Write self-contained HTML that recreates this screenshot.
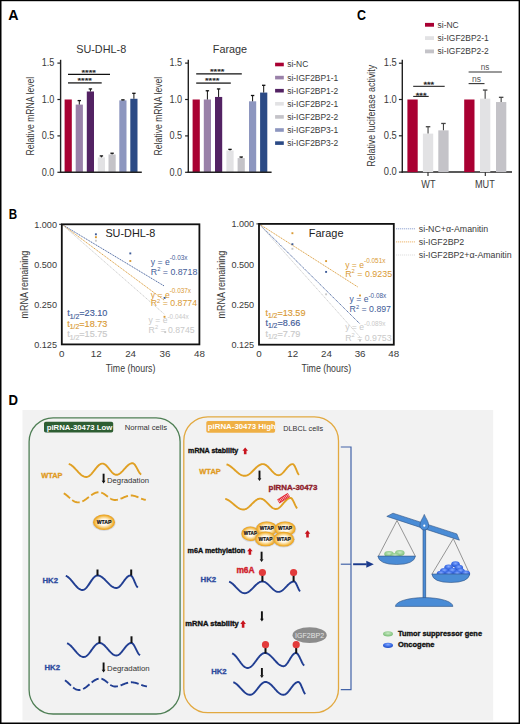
<!DOCTYPE html>
<html><head><meta charset="utf-8"><style>
html,body{margin:0;padding:0;background:#fff;}
svg{display:block;}
text{font-family:"Liberation Sans", sans-serif;}
</style></head><body>
<svg width="520" height="724" viewBox="0 0 520 724">
<defs>
<radialGradient id="gOr" cx="50%" cy="50%" r="50%"><stop offset="0" stop-color="#ffffff"/><stop offset="0.4" stop-color="#FFF8EA"/><stop offset="0.68" stop-color="#F8D282"/><stop offset="0.88" stop-color="#F0AE30"/><stop offset="1" stop-color="#E8A020"/></radialGradient>
<radialGradient id="gGr" cx="50%" cy="40%" r="55%"><stop offset="0" stop-color="#C8EAC4"/><stop offset="1" stop-color="#7EC07A"/></radialGradient>
<radialGradient id="gBl" cx="50%" cy="35%" r="60%"><stop offset="0" stop-color="#86AAFF"/><stop offset="0.6" stop-color="#3F6FE6"/><stop offset="1" stop-color="#2552C8"/></radialGradient>
</defs>
<rect x="0" y="0" width="520" height="724" fill="#fff"/>
<text x="8.20" y="19.70" font-size="14.5" fill="#000" font-weight="bold" textLength="10.30" lengthAdjust="spacingAndGlyphs">A</text>
<text x="8.80" y="219.00" font-size="14.5" fill="#000" font-weight="bold" textLength="8.40" lengthAdjust="spacingAndGlyphs">B</text>
<text x="357.10" y="20.10" font-size="14.5" fill="#000" font-weight="bold" textLength="9.00" lengthAdjust="spacingAndGlyphs">C</text>
<text x="8.60" y="404.70" font-size="14.5" fill="#000" font-weight="bold" textLength="9.50" lengthAdjust="spacingAndGlyphs">D</text>
<line x1="60.60" y1="59.80" x2="60.60" y2="173.00" stroke="#222" stroke-width="1.4"/>
<line x1="57.40" y1="63.10" x2="60.60" y2="63.10" stroke="#222" stroke-width="1.2"/>
<text x="54.40" y="66.30" font-size="10.2" fill="#3a3a3a" text-anchor="end" textLength="12.70" lengthAdjust="spacingAndGlyphs">1.5</text>
<line x1="57.40" y1="99.50" x2="60.60" y2="99.50" stroke="#222" stroke-width="1.2"/>
<text x="54.40" y="102.70" font-size="10.2" fill="#3a3a3a" text-anchor="end" textLength="12.70" lengthAdjust="spacingAndGlyphs">1.0</text>
<line x1="57.40" y1="135.90" x2="60.60" y2="135.90" stroke="#222" stroke-width="1.2"/>
<text x="54.40" y="139.10" font-size="10.2" fill="#3a3a3a" text-anchor="end" textLength="12.70" lengthAdjust="spacingAndGlyphs">0.5</text>
<line x1="57.40" y1="172.30" x2="60.60" y2="172.30" stroke="#222" stroke-width="1.2"/>
<text x="54.40" y="175.50" font-size="10.2" fill="#3a3a3a" text-anchor="end" textLength="12.70" lengthAdjust="spacingAndGlyphs">0.0</text>
<text transform="translate(33.90,116.10) rotate(-90)" x="0" y="0" font-size="10.2" fill="#3a3a3a" text-anchor="middle" textLength="78.70" lengthAdjust="spacingAndGlyphs">Relative mRNA level</text>
<rect x="64.60" y="99.50" width="7.20" height="72.80" fill="#A90032"/>
<rect x="75.70" y="104.60" width="7.20" height="67.70" fill="#9A81A9"/>
<line x1="79.30" y1="100.59" x2="79.30" y2="104.60" stroke="#111" stroke-width="1.0"/>
<line x1="77.60" y1="100.59" x2="81.00" y2="100.59" stroke="#111" stroke-width="1.3"/>
<rect x="86.80" y="91.49" width="7.20" height="80.81" fill="#532263"/>
<line x1="90.40" y1="88.94" x2="90.40" y2="91.49" stroke="#111" stroke-width="1.0"/>
<line x1="88.70" y1="88.94" x2="92.10" y2="88.94" stroke="#111" stroke-width="1.3"/>
<rect x="97.80" y="157.38" width="7.20" height="14.92" fill="#E2E2E4"/>
<line x1="101.40" y1="155.92" x2="101.40" y2="157.38" stroke="#111" stroke-width="1.0"/>
<line x1="99.70" y1="155.92" x2="103.10" y2="155.92" stroke="#111" stroke-width="1.3"/>
<rect x="108.50" y="154.46" width="7.20" height="17.84" fill="#C4C3C8"/>
<line x1="112.10" y1="153.23" x2="112.10" y2="154.46" stroke="#111" stroke-width="1.0"/>
<line x1="110.40" y1="153.23" x2="113.80" y2="153.23" stroke="#111" stroke-width="1.3"/>
<rect x="119.30" y="100.37" width="7.20" height="71.93" fill="#8D96BF"/>
<line x1="122.90" y1="99.86" x2="122.90" y2="100.37" stroke="#111" stroke-width="1.0"/>
<line x1="121.20" y1="99.86" x2="124.60" y2="99.86" stroke="#111" stroke-width="1.3"/>
<rect x="130.30" y="98.77" width="7.20" height="73.53" fill="#2B4A85"/>
<line x1="133.90" y1="93.31" x2="133.90" y2="98.77" stroke="#111" stroke-width="1.0"/>
<line x1="132.20" y1="93.31" x2="135.60" y2="93.31" stroke="#111" stroke-width="1.3"/>
<line x1="59.90" y1="172.30" x2="141.80" y2="172.30" stroke="#222" stroke-width="1.5"/>
<text x="76.20" y="52.80" font-size="11.0" fill="#333" textLength="50.00" lengthAdjust="spacingAndGlyphs">SU-DHL-8</text>
<line x1="68.00" y1="74.40" x2="110.00" y2="74.40" stroke="#111" stroke-width="1.1"/>
<text x="81.50" y="74.60" font-size="7.4" fill="#222" textLength="14.50" lengthAdjust="spacingAndGlyphs" stroke="#222" stroke-width="0.25">****</text>
<line x1="68.00" y1="82.80" x2="101.70" y2="82.80" stroke="#555" stroke-width="1.7"/>
<text x="77.40" y="83.00" font-size="7.4" fill="#222" textLength="14.50" lengthAdjust="spacingAndGlyphs" stroke="#222" stroke-width="0.25">****</text>
<line x1="188.30" y1="59.80" x2="188.30" y2="173.00" stroke="#222" stroke-width="1.4"/>
<line x1="185.10" y1="63.10" x2="188.30" y2="63.10" stroke="#222" stroke-width="1.2"/>
<text x="182.10" y="66.30" font-size="10.2" fill="#3a3a3a" text-anchor="end" textLength="12.70" lengthAdjust="spacingAndGlyphs">1.5</text>
<line x1="185.10" y1="99.50" x2="188.30" y2="99.50" stroke="#222" stroke-width="1.2"/>
<text x="182.10" y="102.70" font-size="10.2" fill="#3a3a3a" text-anchor="end" textLength="12.70" lengthAdjust="spacingAndGlyphs">1.0</text>
<line x1="185.10" y1="135.90" x2="188.30" y2="135.90" stroke="#222" stroke-width="1.2"/>
<text x="182.10" y="139.10" font-size="10.2" fill="#3a3a3a" text-anchor="end" textLength="12.70" lengthAdjust="spacingAndGlyphs">0.5</text>
<line x1="185.10" y1="172.30" x2="188.30" y2="172.30" stroke="#222" stroke-width="1.2"/>
<text x="182.10" y="175.50" font-size="10.2" fill="#3a3a3a" text-anchor="end" textLength="12.70" lengthAdjust="spacingAndGlyphs">0.0</text>
<text transform="translate(161.60,116.10) rotate(-90)" x="0" y="0" font-size="10.2" fill="#3a3a3a" text-anchor="middle" textLength="78.70" lengthAdjust="spacingAndGlyphs">Relative mRNA level</text>
<rect x="192.60" y="99.50" width="7.20" height="72.80" fill="#A90032"/>
<rect x="203.80" y="99.50" width="7.20" height="72.80" fill="#9A81A9"/>
<line x1="207.40" y1="90.76" x2="207.40" y2="99.50" stroke="#111" stroke-width="1.0"/>
<line x1="205.70" y1="90.76" x2="209.10" y2="90.76" stroke="#111" stroke-width="1.3"/>
<rect x="215.00" y="96.95" width="7.20" height="75.35" fill="#532263"/>
<line x1="218.60" y1="88.94" x2="218.60" y2="96.95" stroke="#111" stroke-width="1.0"/>
<line x1="216.90" y1="88.94" x2="220.30" y2="88.94" stroke="#111" stroke-width="1.3"/>
<rect x="226.40" y="150.46" width="7.20" height="21.84" fill="#E2E2E4"/>
<line x1="230.00" y1="149.37" x2="230.00" y2="150.46" stroke="#111" stroke-width="1.0"/>
<line x1="228.30" y1="149.37" x2="231.70" y2="149.37" stroke="#111" stroke-width="1.3"/>
<rect x="237.60" y="158.10" width="7.20" height="14.20" fill="#C4C3C8"/>
<line x1="241.20" y1="157.01" x2="241.20" y2="158.10" stroke="#111" stroke-width="1.0"/>
<line x1="239.50" y1="157.01" x2="242.90" y2="157.01" stroke="#111" stroke-width="1.3"/>
<rect x="249.00" y="101.32" width="7.20" height="70.98" fill="#8D96BF"/>
<line x1="252.60" y1="95.50" x2="252.60" y2="101.32" stroke="#111" stroke-width="1.0"/>
<line x1="250.90" y1="95.50" x2="254.30" y2="95.50" stroke="#111" stroke-width="1.3"/>
<rect x="260.10" y="92.58" width="7.20" height="79.72" fill="#2B4A85"/>
<line x1="263.70" y1="85.30" x2="263.70" y2="92.58" stroke="#111" stroke-width="1.0"/>
<line x1="262.00" y1="85.30" x2="265.40" y2="85.30" stroke="#111" stroke-width="1.3"/>
<line x1="187.60" y1="172.30" x2="271.60" y2="172.30" stroke="#222" stroke-width="1.5"/>
<text x="212.80" y="52.80" font-size="11.0" fill="#333" textLength="34.30" lengthAdjust="spacingAndGlyphs">Farage</text>
<line x1="196.20" y1="73.90" x2="241.80" y2="73.90" stroke="#111" stroke-width="1.1"/>
<text x="210.00" y="74.10" font-size="7.4" fill="#222" textLength="14.50" lengthAdjust="spacingAndGlyphs" stroke="#222" stroke-width="0.25">****</text>
<line x1="196.20" y1="83.20" x2="230.80" y2="83.20" stroke="#555" stroke-width="1.7"/>
<text x="205.00" y="83.40" font-size="7.4" fill="#222" textLength="14.50" lengthAdjust="spacingAndGlyphs" stroke="#222" stroke-width="0.25">****</text>
<rect x="275.10" y="62.70" width="8.70" height="3.60" fill="#A90032"/>
<text x="287.20" y="67.40" font-size="8.45" fill="#3a3a3a">si-NC</text>
<rect x="275.10" y="75.80" width="8.70" height="3.60" fill="#9A81A9"/>
<text x="287.20" y="80.50" font-size="8.45" fill="#3a3a3a">si-IGF2BP1-1</text>
<rect x="275.10" y="88.90" width="8.70" height="3.60" fill="#532263"/>
<text x="287.20" y="93.60" font-size="8.45" fill="#3a3a3a">si-IGF2BP1-2</text>
<rect x="275.10" y="102.00" width="8.70" height="3.60" fill="#E2E2E4"/>
<text x="287.20" y="106.70" font-size="8.45" fill="#3a3a3a">si-IGF2BP2-1</text>
<rect x="275.10" y="115.10" width="8.70" height="3.60" fill="#C4C3C8"/>
<text x="287.20" y="119.80" font-size="8.45" fill="#3a3a3a">si-IGF2BP2-2</text>
<rect x="275.10" y="128.20" width="8.70" height="3.60" fill="#8D96BF"/>
<text x="287.20" y="132.90" font-size="8.45" fill="#3a3a3a">si-IGF2BP3-1</text>
<rect x="275.10" y="141.30" width="8.70" height="3.60" fill="#2B4A85"/>
<text x="287.20" y="146.00" font-size="8.45" fill="#3a3a3a">si-IGF2BP3-2</text>
<line x1="402.30" y1="59.80" x2="402.30" y2="172.80" stroke="#222" stroke-width="1.4"/>
<line x1="398.90" y1="63.20" x2="402.30" y2="63.20" stroke="#222" stroke-width="1.2"/>
<text x="396.70" y="66.40" font-size="10.2" fill="#3a3a3a" text-anchor="end" textLength="13.00" lengthAdjust="spacingAndGlyphs">1.5</text>
<line x1="398.90" y1="99.50" x2="402.30" y2="99.50" stroke="#222" stroke-width="1.2"/>
<text x="396.70" y="102.70" font-size="10.2" fill="#3a3a3a" text-anchor="end" textLength="13.00" lengthAdjust="spacingAndGlyphs">1.0</text>
<line x1="398.90" y1="135.80" x2="402.30" y2="135.80" stroke="#222" stroke-width="1.2"/>
<text x="396.70" y="139.00" font-size="10.2" fill="#3a3a3a" text-anchor="end" textLength="13.00" lengthAdjust="spacingAndGlyphs">0.5</text>
<line x1="398.90" y1="172.10" x2="402.30" y2="172.10" stroke="#222" stroke-width="1.2"/>
<text x="396.70" y="175.30" font-size="10.2" fill="#3a3a3a" text-anchor="end" textLength="13.00" lengthAdjust="spacingAndGlyphs">0.0</text>
<text transform="translate(375.00,115.80) rotate(-90)" x="0" y="0" font-size="10.2" fill="#3a3a3a" text-anchor="middle" textLength="102.00" lengthAdjust="spacingAndGlyphs">Relative luciferase activity</text>
<line x1="401.60" y1="172.10" x2="512.00" y2="172.10" stroke="#222" stroke-width="1.5"/>
<line x1="428.00" y1="172.10" x2="428.00" y2="175.90" stroke="#222" stroke-width="1.1"/>
<line x1="485.30" y1="172.10" x2="485.30" y2="175.90" stroke="#222" stroke-width="1.1"/>
<text x="428.40" y="187.70" font-size="10.2" fill="#3a3a3a" text-anchor="middle" textLength="14.20" lengthAdjust="spacingAndGlyphs">WT</text>
<text x="484.90" y="187.70" font-size="10.2" fill="#3a3a3a" text-anchor="middle" textLength="19.80" lengthAdjust="spacingAndGlyphs">MUT</text>
<rect x="407.40" y="99.50" width="10.30" height="72.60" fill="#A90032"/>
<rect x="422.90" y="133.62" width="10.30" height="38.48" fill="#E2E2E4"/>
<line x1="428.05" y1="126.72" x2="428.05" y2="133.62" stroke="#444" stroke-width="1.1"/>
<line x1="425.80" y1="126.72" x2="430.30" y2="126.72" stroke="#444" stroke-width="1.3"/>
<rect x="438.30" y="130.36" width="10.30" height="41.74" fill="#C4C3C8"/>
<line x1="443.45" y1="123.46" x2="443.45" y2="130.36" stroke="#444" stroke-width="1.1"/>
<line x1="441.20" y1="123.46" x2="445.70" y2="123.46" stroke="#444" stroke-width="1.3"/>
<rect x="464.20" y="99.50" width="10.30" height="72.60" fill="#A90032"/>
<rect x="480.00" y="98.63" width="10.30" height="73.47" fill="#E2E2E4"/>
<line x1="485.15" y1="90.06" x2="485.15" y2="98.63" stroke="#444" stroke-width="1.1"/>
<line x1="482.90" y1="90.06" x2="487.40" y2="90.06" stroke="#444" stroke-width="1.3"/>
<rect x="496.00" y="102.04" width="10.30" height="70.06" fill="#C4C3C8"/>
<line x1="501.15" y1="97.32" x2="501.15" y2="102.04" stroke="#444" stroke-width="1.1"/>
<line x1="498.90" y1="97.32" x2="503.40" y2="97.32" stroke="#444" stroke-width="1.3"/>
<line x1="413.20" y1="86.30" x2="444.70" y2="86.30" stroke="#111" stroke-width="1.0"/>
<text x="428.80" y="87.40" font-size="7.8" fill="#222" text-anchor="middle" textLength="10.80" lengthAdjust="spacingAndGlyphs" stroke="#222" stroke-width="0.3">***</text>
<line x1="413.20" y1="96.40" x2="428.70" y2="96.40" stroke="#111" stroke-width="1.0"/>
<text x="421.10" y="97.70" font-size="7.8" fill="#222" text-anchor="middle" textLength="10.80" lengthAdjust="spacingAndGlyphs" stroke="#222" stroke-width="0.3">***</text>
<line x1="468.60" y1="72.00" x2="501.90" y2="72.00" stroke="#777" stroke-width="1.4"/>
<text x="485.10" y="69.90" font-size="8.3" fill="#555" text-anchor="middle" textLength="8.60" lengthAdjust="spacingAndGlyphs">ns</text>
<line x1="468.60" y1="83.60" x2="484.50" y2="83.60" stroke="#333" stroke-width="1.1"/>
<text x="476.50" y="81.60" font-size="8.3" fill="#555" text-anchor="middle" textLength="9.00" lengthAdjust="spacingAndGlyphs">ns</text>
<rect x="425.00" y="22.90" width="9.00" height="3.80" fill="#A90032"/>
<text x="437.60" y="27.80" font-size="8.45" fill="#3a3a3a">si-NC</text>
<rect x="425.00" y="36.20" width="9.00" height="3.80" fill="#E2E2E4"/>
<text x="437.60" y="41.10" font-size="8.45" fill="#3a3a3a">si-IGF2BP2-1</text>
<rect x="425.00" y="49.50" width="9.00" height="3.80" fill="#C4C3C8"/>
<text x="437.60" y="54.40" font-size="8.45" fill="#3a3a3a">si-IGF2BP2-2</text>
<line x1="59.20" y1="224.30" x2="61.80" y2="224.30" stroke="#222" stroke-width="1.0"/>
<text x="57.00" y="227.80" font-size="9.8" fill="#3a3a3a" text-anchor="end" textLength="22.80" lengthAdjust="spacingAndGlyphs">1.000</text>
<text x="57.00" y="267.83" font-size="9.8" fill="#3a3a3a" text-anchor="end" textLength="22.80" lengthAdjust="spacingAndGlyphs">0.500</text>
<text x="57.00" y="307.87" font-size="9.8" fill="#3a3a3a" text-anchor="end" textLength="22.80" lengthAdjust="spacingAndGlyphs">0.250</text>
<text x="57.00" y="347.90" font-size="9.8" fill="#3a3a3a" text-anchor="end" textLength="22.80" lengthAdjust="spacingAndGlyphs">0.125</text>
<text x="61.80" y="356.90" font-size="9.8" fill="#3a3a3a" text-anchor="middle">0</text>
<text x="96.20" y="356.90" font-size="9.8" fill="#3a3a3a" text-anchor="middle">12</text>
<text x="130.60" y="356.90" font-size="9.8" fill="#3a3a3a" text-anchor="middle">24</text>
<text x="165.00" y="356.90" font-size="9.8" fill="#3a3a3a" text-anchor="middle">36</text>
<text x="199.40" y="356.90" font-size="9.8" fill="#3a3a3a" text-anchor="middle">48</text>
<text x="130.60" y="372.30" font-size="10.2" fill="#3a3a3a" text-anchor="middle" textLength="49.60" lengthAdjust="spacingAndGlyphs">Time (hours)</text>
<text transform="translate(28.20,284.60) rotate(-90)" x="0" y="0" font-size="10.2" fill="#3a3a3a" text-anchor="middle" textLength="67.70" lengthAdjust="spacingAndGlyphs">mRNA remaining</text>
<line x1="61.80" y1="224.30" x2="164.40" y2="286.10" stroke="#3F5C98" stroke-width="0.9" stroke-dasharray="1.3,0.7"/>
<line x1="61.80" y1="224.30" x2="164.40" y2="300.30" stroke="#D99A35" stroke-width="0.9" stroke-dasharray="1.3,0.7"/>
<line x1="61.80" y1="224.30" x2="164.40" y2="314.20" stroke="#C9C9C9" stroke-width="0.9" stroke-dasharray="1.3,0.7"/>
<rect x="94.95" y="233.35" width="1.90" height="1.90" fill="#3F5C98"/>
<rect x="94.95" y="236.25" width="1.90" height="1.90" fill="#D99A35"/>
<rect x="94.95" y="239.75" width="1.90" height="1.90" fill="#C9C9C9"/>
<rect x="129.35" y="252.45" width="1.90" height="1.90" fill="#3F5C98"/>
<rect x="129.35" y="260.05" width="1.90" height="1.90" fill="#D99A35"/>
<rect x="163.65" y="296.95" width="1.90" height="1.90" fill="#3F5C98"/>
<rect x="163.55" y="315.85" width="1.90" height="1.90" fill="#D99A35"/>
<rect x="164.25" y="331.15" width="1.90" height="1.90" fill="#C9C9C9"/>
<rect x="61.80" y="224.30" width="137.60" height="120.10" fill="none" stroke="#111" stroke-width="1.8"/>
<text x="105.40" y="237.40" font-size="10.7" fill="#222" textLength="50.00" lengthAdjust="spacingAndGlyphs">SU-DHL-8</text>
<text x="150.80" y="264.70" font-size="8.6" fill="#3F5C98">y = e<tspan font-size="6.4" dy="-4.3">-0.03x</tspan></text>
<text x="150.80" y="275.00" font-size="8.6" fill="#3F5C98" textLength="46.50" lengthAdjust="spacingAndGlyphs">R<tspan font-size="5.6" dy="-3.6">2</tspan><tspan dy="3.6"> = 0.8718</tspan></text>
<text x="150.80" y="297.60" font-size="8.6" fill="#D99A35">y = e<tspan font-size="6.4" dy="-4.3">-0.037x</tspan></text>
<text x="150.80" y="306.10" font-size="8.6" fill="#D99A35" textLength="46.30" lengthAdjust="spacingAndGlyphs">R<tspan font-size="5.6" dy="-3.6">2</tspan><tspan dy="3.6"> = 0.8774</tspan></text>
<text x="148.60" y="322.80" font-size="8.6" fill="#C9C9C9">y = e<tspan font-size="6.4" dy="-4.3">-0.044x</tspan></text>
<text x="148.60" y="332.80" font-size="8.6" fill="#C9C9C9" textLength="46.00" lengthAdjust="spacingAndGlyphs">R<tspan font-size="5.6" dy="-3.6">2</tspan><tspan dy="3.6"> = 0.8745</tspan></text>
<text x="67.30" y="316.30" font-size="9.1" fill="#3F5C98" stroke="#3F5C98" stroke-width="0.15">t<tspan font-size="6.8" dy="2.3">1/2</tspan><tspan dy="-2.3">=23.10</tspan></text>
<text x="67.30" y="326.70" font-size="9.1" fill="#D99A35" stroke="#D99A35" stroke-width="0.15">t<tspan font-size="6.8" dy="2.3">1/2</tspan><tspan dy="-2.3">=18.73</tspan></text>
<text x="67.30" y="337.20" font-size="9.1" fill="#C9C9C9" stroke="#C9C9C9" stroke-width="0.15">t<tspan font-size="6.8" dy="2.3">1/2</tspan><tspan dy="-2.3">=15.75</tspan></text>
<line x1="256.40" y1="223.90" x2="259.00" y2="223.90" stroke="#222" stroke-width="1.0"/>
<text x="254.20" y="227.40" font-size="9.8" fill="#3a3a3a" text-anchor="end" textLength="22.80" lengthAdjust="spacingAndGlyphs">1.000</text>
<text x="254.20" y="267.67" font-size="9.8" fill="#3a3a3a" text-anchor="end" textLength="22.80" lengthAdjust="spacingAndGlyphs">0.500</text>
<text x="254.20" y="307.93" font-size="9.8" fill="#3a3a3a" text-anchor="end" textLength="22.80" lengthAdjust="spacingAndGlyphs">0.250</text>
<text x="254.20" y="348.20" font-size="9.8" fill="#3a3a3a" text-anchor="end" textLength="22.80" lengthAdjust="spacingAndGlyphs">0.125</text>
<text x="259.00" y="356.90" font-size="9.8" fill="#3a3a3a" text-anchor="middle">0</text>
<text x="292.70" y="356.90" font-size="9.8" fill="#3a3a3a" text-anchor="middle">12</text>
<text x="326.40" y="356.90" font-size="9.8" fill="#3a3a3a" text-anchor="middle">24</text>
<text x="360.10" y="356.90" font-size="9.8" fill="#3a3a3a" text-anchor="middle">36</text>
<text x="393.80" y="356.90" font-size="9.8" fill="#3a3a3a" text-anchor="middle">48</text>
<text x="326.40" y="372.30" font-size="10.2" fill="#3a3a3a" text-anchor="middle" textLength="49.60" lengthAdjust="spacingAndGlyphs">Time (hours)</text>
<text transform="translate(225.40,284.60) rotate(-90)" x="0" y="0" font-size="10.2" fill="#3a3a3a" text-anchor="middle" textLength="67.70" lengthAdjust="spacingAndGlyphs">mRNA remaining</text>
<line x1="259.00" y1="223.90" x2="357.70" y2="286.90" stroke="#D99A35" stroke-width="0.9" stroke-dasharray="1.3,0.7"/>
<line x1="259.00" y1="223.90" x2="360.00" y2="323.90" stroke="#3F5C98" stroke-width="0.9" stroke-dasharray="1.3,0.7"/>
<line x1="259.00" y1="223.90" x2="360.00" y2="337.00" stroke="#C9C9C9" stroke-width="0.9" stroke-dasharray="1.3,0.7"/>
<rect x="291.45" y="232.25" width="1.90" height="1.90" fill="#D99A35"/>
<rect x="291.45" y="243.25" width="1.90" height="1.90" fill="#3F5C98"/>
<rect x="291.45" y="247.85" width="1.90" height="1.90" fill="#C9C9C9"/>
<rect x="325.15" y="260.15" width="1.90" height="1.90" fill="#D99A35"/>
<rect x="325.15" y="270.95" width="1.90" height="1.90" fill="#3F5C98"/>
<rect x="325.15" y="293.35" width="1.90" height="1.90" fill="#C9C9C9"/>
<rect x="359.05" y="294.55" width="1.90" height="1.90" fill="#D99A35"/>
<rect x="359.05" y="339.55" width="1.90" height="1.90" fill="#C9C9C9"/>
<rect x="259.00" y="223.90" width="134.80" height="120.80" fill="none" stroke="#111" stroke-width="1.8"/>
<text x="308.80" y="237.40" font-size="10.7" fill="#222" textLength="34.70" lengthAdjust="spacingAndGlyphs">Farage</text>
<text x="345.20" y="267.60" font-size="8.6" fill="#D99A35">y = e<tspan font-size="6.4" dy="-4.3">-0.051x</tspan></text>
<text x="345.20" y="276.90" font-size="8.6" fill="#D99A35" textLength="46.90" lengthAdjust="spacingAndGlyphs">R<tspan font-size="5.6" dy="-3.6">2</tspan><tspan dy="3.6"> = 0.9235</tspan></text>
<text x="349.60" y="301.80" font-size="8.6" fill="#3F5C98">y = e<tspan font-size="6.4" dy="-4.3">-0.08x</tspan></text>
<text x="349.60" y="312.20" font-size="8.6" fill="#3F5C98" textLength="41.40" lengthAdjust="spacingAndGlyphs">R<tspan font-size="5.6" dy="-3.6">2</tspan><tspan dy="3.6"> = 0.897</tspan></text>
<text x="345.20" y="330.30" font-size="8.6" fill="#C9C9C9">y = e<tspan font-size="6.4" dy="-4.3">-0.089x</tspan></text>
<text x="345.20" y="340.50" font-size="8.6" fill="#C9C9C9" textLength="46.40" lengthAdjust="spacingAndGlyphs">R<tspan font-size="5.6" dy="-3.6">2</tspan><tspan dy="3.6"> = 0.9753</tspan></text>
<text x="265.40" y="315.50" font-size="9.1" fill="#D99A35" stroke="#D99A35" stroke-width="0.15">t<tspan font-size="6.8" dy="2.3">1/2</tspan><tspan dy="-2.3">=13.59</tspan></text>
<text x="265.40" y="326.00" font-size="9.1" fill="#3F5C98" stroke="#3F5C98" stroke-width="0.15">t<tspan font-size="6.8" dy="2.3">1/2</tspan><tspan dy="-2.3">=8.66</tspan></text>
<text x="265.40" y="336.60" font-size="9.1" fill="#C9C9C9" stroke="#C9C9C9" stroke-width="0.15">t<tspan font-size="6.8" dy="2.3">1/2</tspan><tspan dy="-2.3">=7.79</tspan></text>
<line x1="396.20" y1="228.80" x2="415.00" y2="228.80" stroke="#7B93C8" stroke-width="1.0" stroke-dasharray="1,1"/>
<text x="418.80" y="231.50" font-size="8.8" fill="#3a3a3a">si-NC+α-Amanitin</text>
<line x1="396.20" y1="241.90" x2="415.00" y2="241.90" stroke="#E8A850" stroke-width="1.0" stroke-dasharray="1,1"/>
<text x="418.80" y="244.60" font-size="8.8" fill="#3a3a3a">si-IGF2BP2</text>
<line x1="396.20" y1="255.00" x2="415.00" y2="255.00" stroke="#D8D8D8" stroke-width="1.0" stroke-dasharray="1,1"/>
<text x="418.80" y="257.70" font-size="8.8" fill="#3a3a3a">si-IGF2BP2+α-Amanitin</text>
<rect x="22.50" y="410.00" width="470.70" height="310.60" fill="#F2F2F2"/>
<rect x="29.1" y="417.8" width="151.0" height="296.2" rx="24" ry="24" fill="none" stroke="#4F7F55" stroke-width="1.3"/>
<rect x="183.8" y="416.8" width="154.7" height="295.9" rx="24" ry="24" fill="none" stroke="#E2A940" stroke-width="1.3"/>
<rect x="44.0" y="421.7" width="69.2" height="10.8" rx="1.8" fill="#2E5E33"/>
<text x="46.70" y="430.20" font-size="7.75" fill="#fff" font-weight="bold" textLength="65.50" lengthAdjust="spacingAndGlyphs">piRNA-30473 Low</text>
<text x="124.80" y="430.00" font-size="7.7" fill="#333" textLength="42.30" lengthAdjust="spacingAndGlyphs">Normal cells</text>
<rect x="206.3" y="420.9" width="68.8" height="11.8" rx="1.8" fill="#EFB045"/>
<svg x="206.3" y="420.9" width="68.8" height="11.8" overflow="hidden"><text x="1.5" y="8.5" font-size="7.75" font-weight="bold" fill="#fff" textLength="68.0" lengthAdjust="spacingAndGlyphs">piRNA-30473 High</text></svg>
<text x="283.30" y="430.90" font-size="7.6" fill="#333" textLength="39.80" lengthAdjust="spacingAndGlyphs">DLBCL cells</text>
<text x="41.30" y="477.60" font-size="7.6" fill="#E09A22" font-weight="bold" textLength="21.20" lengthAdjust="spacingAndGlyphs" stroke="#E09A22" stroke-width="0.3">WTAP</text>
<path d="M68.75,463.87 L69.25,464.04 L69.75,464.26 L70.25,464.51 L70.75,464.81 L71.25,465.14 L71.75,465.51 L72.25,465.91 L72.75,466.33 L73.25,466.79 L73.75,467.26 L74.25,467.76 L74.75,468.27 L75.25,468.80 L75.75,469.34 L76.25,469.88 L76.75,470.43 L77.25,470.98 L77.75,471.52 L78.25,472.05 L78.75,472.57 L79.25,473.08 L79.75,473.57 L80.25,474.03 L80.75,474.47 L81.25,474.89 L81.75,475.27 L82.25,475.62 L82.75,475.94 L83.25,476.21 L83.75,476.45 L84.25,476.65 L84.75,476.80 L85.25,476.91 L85.75,476.98 L86.25,477.00 L86.75,476.97 L87.25,476.88 L87.75,476.72 L88.25,476.51 L88.75,476.23 L89.25,475.90 L89.75,475.52 L90.25,475.09 L90.75,474.62 L91.25,474.11 L91.75,473.56 L92.25,472.98 L92.75,472.37 L93.25,471.75 L93.75,471.11 L94.25,470.46 L94.75,469.81 L95.25,469.17 L95.75,468.54 L96.25,467.92 L96.75,467.33 L97.25,466.76 L97.75,466.23 L98.25,465.74 L98.75,465.28 L99.25,464.88 L99.75,464.52 L100.25,464.22 L100.75,463.98 L101.25,463.79 L101.75,463.67 L102.25,463.61 L102.75,463.61 L103.25,463.68 L103.75,463.83 L104.25,464.04 L104.75,464.32 L105.25,464.66 L105.75,465.06 L106.25,465.52 L106.75,466.02 L107.25,466.57 L107.75,467.15 L108.25,467.75 L108.75,468.37 L109.25,469.01 L109.75,469.65 L110.25,470.28 L110.75,470.89 L111.25,471.49 L111.75,472.06 L112.25,472.58 L112.75,473.07 L113.25,473.50 L113.75,473.88 L114.25,474.20 L114.75,474.45 L115.25,474.64 L115.75,474.76 L116.25,474.80 L116.75,474.78 L117.25,474.70 L117.75,474.57 L118.25,474.39 L118.75,474.16 L119.25,473.88 L119.75,473.55 L120.25,473.18 L120.75,472.77 L121.25,472.33 L121.75,471.85 L122.25,471.35 L122.75,470.82 L123.25,470.28 L123.75,469.73 L124.25,469.17 L124.75,468.61 L125.25,468.05 L125.75,467.50 L126.25,466.96 L126.75,466.45 L127.25,465.96 L127.75,465.49 L128.25,465.06 L128.75,464.67 L129.25,464.31 L129.75,464.01 L130.25,463.74 L130.75,463.53 L131.25,463.37 L131.75,463.26 L132.25,463.21 L132.75,463.22 L133.25,463.37 L133.75,463.67 L134.25,464.11 L134.75,464.68 L135.25,465.36 L135.75,466.14 L136.25,466.99 L136.75,467.90 L137.25,468.84 L137.75,469.78 L138.25,470.69 L138.75,471.57 L139.25,472.38 L139.75,473.09 L140.25,473.70 L140.75,474.19 L141.25,474.54" fill="none" stroke="#E0A024" stroke-width="1.9" stroke-linecap="butt"/>
<rect x="102.65" y="473.70" width="1.90" height="7.40" fill="#111"/>
<polygon points="101.70,480.80 105.50,480.80 103.60,483.60" fill="#111"/>
<text x="107.00" y="482.80" font-size="7.8" fill="#333" textLength="42.00" lengthAdjust="spacingAndGlyphs">Degradation</text>
<path d="M63.80,493.30 L64.30,493.59 L64.80,493.91 L65.30,494.25 L65.80,494.62 L66.30,495.01 L66.80,495.41 L67.30,495.83 L67.80,496.26 L68.30,496.70 L68.80,497.14 L69.30,497.59 L69.80,498.03 L70.30,498.46 L70.80,498.89 L71.30,499.31 L71.80,499.71 L72.30,500.09 L72.80,500.45 L73.30,500.79 L73.80,501.10 L74.30,501.38 L74.80,501.63 L75.30,501.85 L75.80,502.03 L76.30,502.18 L76.80,502.29 L77.30,502.36 L77.80,502.40 L78.30,502.39 L78.80,502.36 L79.30,502.30 L79.80,502.22 L80.30,502.10 L80.80,501.96 L81.30,501.79 L81.80,501.60 L82.30,501.38 L82.80,501.14 L83.30,500.88 L83.80,500.60 L84.30,500.30 L84.80,499.98 L85.30,499.65 L85.80,499.30 L86.30,498.95 L86.80,498.58 L87.30,498.21 L87.80,497.83 L88.30,497.45 L88.80,497.07 L89.30,496.69 L89.80,496.31 L90.30,495.94 L90.80,495.58 L91.30,495.23 L91.80,494.88 L92.30,494.55 L92.80,494.24 L93.30,493.94 L93.80,493.67 L94.30,493.41 L94.80,493.17 L95.30,492.96 L95.80,492.77 L96.30,492.61 L96.80,492.47 L97.30,492.36 L97.80,492.28 L98.30,492.23 L98.80,492.20 L99.30,492.21 L99.80,492.25 L100.30,492.33 L100.80,492.44 L101.30,492.59 L101.80,492.77 L102.30,492.99 L102.80,493.24 L103.30,493.51 L103.80,493.81 L104.30,494.13 L104.80,494.47 L105.30,494.82 L105.80,495.19 L106.30,495.57 L106.80,495.95 L107.30,496.33 L107.80,496.71 L108.30,497.08 L108.80,497.45 L109.30,497.80 L109.80,498.14 L110.30,498.45 L110.80,498.75 L111.30,499.02 L111.80,499.26 L112.30,499.46 L112.80,499.64 L113.30,499.78 L113.80,499.89 L114.30,499.96 L114.80,500.00 L115.30,500.00 L115.80,499.97 L116.30,499.93 L116.80,499.86 L117.30,499.77 L117.80,499.67 L118.30,499.54 L118.80,499.40 L119.30,499.24 L119.80,499.07 L120.30,498.89 L120.80,498.69 L121.30,498.49 L121.80,498.28 L122.30,498.06 L122.80,497.84 L123.30,497.62 L123.80,497.40 L124.30,497.18 L124.80,496.97 L125.30,496.77 L125.80,496.57 L126.30,496.39 L126.80,496.22 L127.30,496.07 L127.80,495.93 L128.30,495.81 L128.80,495.71 L129.30,495.62 L129.80,495.56 L130.30,495.52 L130.80,495.50 L131.30,495.50 L131.80,495.53 L132.30,495.57 L132.80,495.63 L133.30,495.71 L133.80,495.81 L134.30,495.93 L134.80,496.06 L135.30,496.21 L135.80,496.38 L136.30,496.55 L136.80,496.74 L137.30,496.94 L137.80,497.14 L138.30,497.35 L138.80,497.56 L139.30,497.77 L139.80,497.99 L140.30,498.20 L140.80,498.41 L141.30,498.61 L141.80,498.80 L142.30,498.99 L142.80,499.16 L143.30,499.32 L143.80,499.47 L144.30,499.60 L144.80,499.71 L145.30,499.81 L145.80,499.88" fill="none" stroke="#E0A024" stroke-width="1.9" stroke-linecap="butt" stroke-dasharray="8,2.8"/>
<ellipse cx="104.00" cy="522.70" rx="11.60" ry="8.30" fill="#9aa6c0" opacity="0.35"/>
<ellipse cx="104.00" cy="522.30" rx="11.00" ry="7.70" fill="url(#gOr)"/>
<text x="104.00" y="524.03" font-size="4.8" font-weight="bold" fill="#111" stroke="#111" stroke-width="0.2" text-anchor="middle" textLength="14.70" lengthAdjust="spacingAndGlyphs">WTAP</text>
<text x="42.50" y="582.50" font-size="7.75" fill="#2D4A9D" font-weight="bold" textLength="15.50" lengthAdjust="spacingAndGlyphs" stroke="#2D4A9D" stroke-width="0.3">HK2</text>
<path d="M65.75,575.79 L66.25,575.99 L66.75,576.24 L67.25,576.53 L67.75,576.87 L68.25,577.25 L68.75,577.68 L69.25,578.14 L69.75,578.63 L70.25,579.15 L70.75,579.70 L71.25,580.27 L71.75,580.86 L72.25,581.47 L72.75,582.08 L73.25,582.70 L73.75,583.31 L74.25,583.93 L74.75,584.53 L75.25,585.13 L75.75,585.70 L76.25,586.25 L76.75,586.78 L77.25,587.28 L77.75,587.75 L78.25,588.18 L78.75,588.57 L79.25,588.91 L79.75,589.22 L80.25,589.47 L80.75,589.68 L81.25,589.84 L81.75,589.94 L82.25,589.99 L82.75,589.99 L83.25,589.91 L83.75,589.75 L84.25,589.52 L84.75,589.21 L85.25,588.83 L85.75,588.38 L86.25,587.88 L86.75,587.31 L87.25,586.70 L87.75,586.04 L88.25,585.35 L88.75,584.63 L89.25,583.88 L89.75,583.13 L90.25,582.37 L90.75,581.62 L91.25,580.87 L91.75,580.15 L92.25,579.46 L92.75,578.80 L93.25,578.19 L93.75,577.62 L94.25,577.12 L94.75,576.67 L95.25,576.29 L95.75,575.98 L96.25,575.75 L96.75,575.59 L97.25,575.51 L97.75,575.51 L98.25,575.55 L98.75,575.64 L99.25,575.77 L99.75,575.94 L100.25,576.15 L100.75,576.40 L101.25,576.69 L101.75,577.01 L102.25,577.37 L102.75,577.75 L103.25,578.17 L103.75,578.61 L104.25,579.07 L104.75,579.55 L105.25,580.05 L105.75,580.56 L106.25,581.07 L106.75,581.59 L107.25,582.12 L107.75,582.63 L108.25,583.15 L108.75,583.65 L109.25,584.14 L109.75,584.62 L110.25,585.07 L110.75,585.50 L111.25,585.90 L111.75,586.28 L112.25,586.62 L112.75,586.93 L113.25,587.21 L113.75,587.44 L114.25,587.64 L114.75,587.79 L115.25,587.90 L115.75,587.97 L116.25,588.00 L116.75,587.97 L117.25,587.86 L117.75,587.68 L118.25,587.43 L118.75,587.10 L119.25,586.72 L119.75,586.27 L120.25,585.76 L120.75,585.21 L121.25,584.61 L121.75,583.98 L122.25,583.32 L122.75,582.65 L123.25,581.96 L123.75,581.27 L124.25,580.58 L124.75,579.91 L125.25,579.26 L125.75,578.64 L126.25,578.07 L126.75,577.53 L127.25,577.05 L127.75,576.62 L128.25,576.26 L128.75,575.96 L129.25,575.74 L129.75,575.59 L130.25,575.51 L130.75,575.53 L131.25,575.75 L131.75,576.20 L132.25,576.84 L132.75,577.66 L133.25,578.63 L133.75,579.71 L134.25,580.87 L134.75,582.05 L135.25,583.23 L135.75,584.35 L136.25,585.38 L136.75,586.28 L137.25,587.01 L137.75,587.56" fill="none" stroke="#213E92" stroke-width="1.9" stroke-linecap="butt"/>
<rect x="96.50" y="569.50" width="2.00" height="6.00" fill="#111"/>
<rect x="130.20" y="569.50" width="2.00" height="6.00" fill="#111"/>
<path d="M67.00,643.28 L67.50,643.47 L68.00,643.71 L68.50,644.00 L69.00,644.32 L69.50,644.69 L70.00,645.10 L70.50,645.55 L71.00,646.02 L71.50,646.53 L72.00,647.06 L72.50,647.61 L73.00,648.18 L73.50,648.76 L74.00,649.35 L74.50,649.95 L75.00,650.54 L75.50,651.14 L76.00,651.72 L76.50,652.29 L77.00,652.85 L77.50,653.38 L78.00,653.89 L78.50,654.37 L79.00,654.82 L79.50,655.24 L80.00,655.62 L80.50,655.95 L81.00,656.24 L81.50,656.49 L82.00,656.69 L82.50,656.84 L83.00,656.94 L83.50,656.99 L84.00,656.99 L84.50,656.92 L85.00,656.78 L85.50,656.58 L86.00,656.31 L86.50,655.97 L87.00,655.58 L87.50,655.13 L88.00,654.63 L88.50,654.09 L89.00,653.50 L89.50,652.88 L90.00,652.23 L90.50,651.56 L91.00,650.87 L91.50,650.17 L92.00,649.48 L92.50,648.78 L93.00,648.10 L93.50,647.44 L94.00,646.81 L94.50,646.20 L95.00,645.64 L95.50,645.11 L96.00,644.64 L96.50,644.22 L97.00,643.85 L97.50,643.55 L98.00,643.31 L98.50,643.14 L99.00,643.03 L99.50,643.00 L100.00,643.03 L100.50,643.11 L101.00,643.24 L101.50,643.43 L102.00,643.67 L102.50,643.96 L103.00,644.29 L103.50,644.67 L104.00,645.09 L104.50,645.54 L105.00,646.02 L105.50,646.54 L106.00,647.08 L106.50,647.63 L107.00,648.20 L107.50,648.78 L108.00,649.37 L108.50,649.95 L109.00,650.53 L109.50,651.09 L110.00,651.64 L110.50,652.17 L111.00,652.67 L111.50,653.15 L112.00,653.59 L112.50,653.99 L113.00,654.35 L113.50,654.66 L114.00,654.93 L114.50,655.15 L115.00,655.32 L115.50,655.43 L116.00,655.49 L116.50,655.49 L117.00,655.43 L117.50,655.30 L118.00,655.11 L118.50,654.85 L119.00,654.53 L119.50,654.15 L120.00,653.72 L120.50,653.23 L121.00,652.71 L121.50,652.15 L122.00,651.55 L122.50,650.93 L123.00,650.29 L123.50,649.64 L124.00,648.99 L124.50,648.34 L125.00,647.70 L125.50,647.07 L126.00,646.47 L126.50,645.90 L127.00,645.37 L127.50,644.88 L128.00,644.43 L128.50,644.04 L129.00,643.71 L129.50,643.44 L130.00,643.23 L130.50,643.09 L131.00,643.01 L131.50,643.01 L132.00,643.16 L132.50,643.48 L133.00,643.95 L133.50,644.56 L134.00,645.30 L134.50,646.15 L135.00,647.08 L135.50,648.06 L136.00,649.08 L136.50,650.11 L137.00,651.11 L137.50,652.06 L138.00,652.93 L138.50,653.71 L139.00,654.36 L139.50,654.88 L140.00,655.25" fill="none" stroke="#213E92" stroke-width="1.9" stroke-linecap="butt"/>
<rect x="98.50" y="636.30" width="2.00" height="6.70" fill="#111"/>
<rect x="130.50" y="636.30" width="2.00" height="6.70" fill="#111"/>
<text x="44.50" y="670.00" font-size="7.75" fill="#2D4A9D" font-weight="bold" textLength="15.50" lengthAdjust="spacingAndGlyphs" stroke="#2D4A9D" stroke-width="0.3">HK2</text>
<rect x="102.65" y="662.50" width="1.90" height="7.50" fill="#111"/>
<polygon points="101.70,669.70 105.50,669.70 103.60,672.50" fill="#111"/>
<text x="107.00" y="670.50" font-size="7.8" fill="#333" textLength="42.60" lengthAdjust="spacingAndGlyphs">Degradation</text>
<path d="M65.00,680.30 L65.50,680.65 L66.00,681.03 L66.50,681.44 L67.00,681.86 L67.50,682.30 L68.00,682.75 L68.50,683.22 L69.00,683.69 L69.50,684.17 L70.00,684.65 L70.50,685.12 L71.00,685.59 L71.50,686.05 L72.00,686.50 L72.50,686.93 L73.00,687.35 L73.50,687.74 L74.00,688.11 L74.50,688.45 L75.00,688.76 L75.50,689.05 L76.00,689.29 L76.50,689.51 L77.00,689.68 L77.50,689.82 L78.00,689.92 L78.50,689.98 L79.00,690.00 L79.50,689.98 L80.00,689.94 L80.50,689.86 L81.00,689.75 L81.50,689.61 L82.00,689.44 L82.50,689.24 L83.00,689.01 L83.50,688.76 L84.00,688.48 L84.50,688.18 L85.00,687.85 L85.50,687.51 L86.00,687.15 L86.50,686.77 L87.00,686.38 L87.50,685.98 L88.00,685.57 L88.50,685.15 L89.00,684.73 L89.50,684.30 L90.00,683.87 L90.50,683.45 L91.00,683.03 L91.50,682.62 L92.00,682.22 L92.50,681.83 L93.00,681.45 L93.50,681.09 L94.00,680.75 L94.50,680.42 L95.00,680.12 L95.50,679.84 L96.00,679.59 L96.50,679.36 L97.00,679.16 L97.50,678.99 L98.00,678.85 L98.50,678.74 L99.00,678.66 L99.50,678.62 L100.00,678.60 L100.50,678.62 L101.00,678.69 L101.50,678.79 L102.00,678.94 L102.50,679.13 L103.00,679.35 L103.50,679.61 L104.00,679.91 L104.50,680.23 L105.00,680.58 L105.50,680.94 L106.00,681.33 L106.50,681.73 L107.00,682.14 L107.50,682.55 L108.00,682.96 L108.50,683.37 L109.00,683.77 L109.50,684.16 L110.00,684.52 L110.50,684.87 L111.00,685.19 L111.50,685.49 L112.00,685.75 L112.50,685.97 L113.00,686.16 L113.50,686.31 L114.00,686.41 L114.50,686.48 L115.00,686.50 L115.50,686.49 L116.00,686.46 L116.50,686.41 L117.00,686.34 L117.50,686.26 L118.00,686.16 L118.50,686.04 L119.00,685.90 L119.50,685.75 L120.00,685.59 L120.50,685.42 L121.00,685.24 L121.50,685.05 L122.00,684.85 L122.50,684.65 L123.00,684.45 L123.50,684.25 L124.00,684.05 L124.50,683.85 L125.00,683.66 L125.50,683.47 L126.00,683.29 L126.50,683.12 L127.00,682.97 L127.50,682.83 L128.00,682.70 L128.50,682.59 L129.00,682.50 L129.50,682.42 L130.00,682.36 L130.50,682.32 L131.00,682.30 L131.50,682.30 L132.00,682.32 L132.50,682.35 L133.00,682.40 L133.50,682.47 L134.00,682.56 L134.50,682.65 L135.00,682.77 L135.50,682.89 L136.00,683.03 L136.50,683.18 L137.00,683.34 L137.50,683.51 L138.00,683.69 L138.50,683.87 L139.00,684.06 L139.50,684.25 L140.00,684.44 L140.50,684.63 L141.00,684.81 L141.50,685.00 L142.00,685.18 L142.50,685.35 L143.00,685.52 L143.50,685.67 L144.00,685.82 L144.50,685.95 L145.00,686.08 L145.50,686.18 L146.00,686.28 L146.50,686.35 L147.00,686.42" fill="none" stroke="#213E92" stroke-width="1.9" stroke-linecap="butt" stroke-dasharray="8,2.8"/>
<text x="188.10" y="452.80" font-size="7.1" fill="#111" font-weight="bold" textLength="50.10" lengthAdjust="spacingAndGlyphs" stroke="#111" stroke-width="0.35">mRNA stability</text>
<polygon points="245.20,447.50 248.00,450.85 246.49,450.85 246.49,454.20 243.91,454.20 243.91,450.85 242.40,450.85" fill="#C8141E"/>
<text x="199.30" y="473.70" font-size="7.6" fill="#E09A22" font-weight="bold" textLength="21.50" lengthAdjust="spacingAndGlyphs" stroke="#E09A22" stroke-width="0.3">WTAP</text>
<path d="M226.50,464.33 L227.00,464.48 L227.50,464.66 L228.00,464.87 L228.50,465.11 L229.00,465.39 L229.50,465.69 L230.00,466.02 L230.50,466.37 L231.00,466.74 L231.50,467.14 L232.00,467.55 L232.50,467.97 L233.00,468.41 L233.50,468.86 L234.00,469.31 L234.50,469.77 L235.00,470.23 L235.50,470.69 L236.00,471.14 L236.50,471.58 L237.00,472.02 L237.50,472.44 L238.00,472.85 L238.50,473.24 L239.00,473.61 L239.50,473.96 L240.00,474.28 L240.50,474.57 L241.00,474.84 L241.50,475.08 L242.00,475.28 L242.50,475.45 L243.00,475.59 L243.50,475.70 L244.00,475.76 L244.50,475.80 L245.00,475.79 L245.50,475.74 L246.00,475.65 L246.50,475.52 L247.00,475.34 L247.50,475.13 L248.00,474.88 L248.50,474.59 L249.00,474.26 L249.50,473.90 L250.00,473.52 L250.50,473.11 L251.00,472.67 L251.50,472.21 L252.00,471.74 L252.50,471.25 L253.00,470.76 L253.50,470.25 L254.00,469.75 L254.50,469.24 L255.00,468.75 L255.50,468.26 L256.00,467.78 L256.50,467.32 L257.00,466.88 L257.50,466.46 L258.00,466.07 L258.50,465.71 L259.00,465.38 L259.50,465.08 L260.00,464.82 L260.50,464.59 L261.00,464.41 L261.50,464.27 L262.00,464.17 L262.50,464.11 L263.00,464.10 L263.50,464.14 L264.00,464.24 L264.50,464.39 L265.00,464.59 L265.50,464.84 L266.00,465.15 L266.50,465.50 L267.00,465.89 L267.50,466.32 L268.00,466.78 L268.50,467.27 L269.00,467.79 L269.50,468.32 L270.00,468.87 L270.50,469.43 L271.00,469.99 L271.50,470.54 L272.00,471.09 L272.50,471.62 L273.00,472.13 L273.50,472.62 L274.00,473.07 L274.50,473.49 L275.00,473.88 L275.50,474.22 L276.00,474.51 L276.50,474.76 L277.00,474.95 L277.50,475.09 L278.00,475.17 L278.50,475.20 L279.00,475.17 L279.50,475.06 L280.00,474.90 L280.50,474.67 L281.00,474.37 L281.50,474.02 L282.00,473.62 L282.50,473.16 L283.00,472.67 L283.50,472.14 L284.00,471.57 L284.50,470.99 L285.00,470.38 L285.50,469.77 L286.00,469.16 L286.50,468.55 L287.00,467.96 L287.50,467.39 L288.00,466.84 L288.50,466.33 L289.00,465.86 L289.50,465.43 L290.00,465.06 L290.50,464.74 L291.00,464.49 L291.50,464.29 L292.00,464.17 L292.50,464.11 L293.00,464.15 L293.50,464.44 L294.00,464.98 L294.50,465.75 L295.00,466.70 L295.50,467.80 L296.00,468.99 L296.50,470.20 L297.00,471.39 L297.50,472.50 L298.00,473.47 L298.50,474.26 L299.00,474.82" fill="none" stroke="#E0A024" stroke-width="1.9" stroke-linecap="butt"/>
<rect x="258.55" y="470.60" width="1.90" height="7.90" fill="#111"/>
<polygon points="257.60,478.20 261.40,478.20 259.50,481.00" fill="#111"/>
<text x="268.60" y="490.00" font-size="7.9" fill="#8E1B2A" font-weight="bold" textLength="48.80" lengthAdjust="spacingAndGlyphs" stroke="#8E1B2A" stroke-width="0.35">piRNA-30473</text>
<path d="M225.20,498.82 L225.70,498.95 L226.20,499.12 L226.70,499.32 L227.20,499.55 L227.70,499.80 L228.20,500.08 L228.70,500.39 L229.20,500.71 L229.70,501.06 L230.20,501.43 L230.70,501.81 L231.20,502.21 L231.70,502.62 L232.20,503.03 L232.70,503.46 L233.20,503.88 L233.70,504.31 L234.20,504.74 L234.70,505.16 L235.20,505.57 L235.70,505.98 L236.20,506.37 L236.70,506.75 L237.20,507.11 L237.70,507.46 L238.20,507.78 L238.70,508.08 L239.20,508.36 L239.70,508.61 L240.20,508.83 L240.70,509.02 L241.20,509.18 L241.70,509.31 L242.20,509.40 L242.70,509.47 L243.20,509.50 L243.70,509.49 L244.20,509.44 L244.70,509.34 L245.20,509.20 L245.70,509.01 L246.20,508.78 L246.70,508.51 L247.20,508.20 L247.70,507.85 L248.20,507.47 L248.70,507.06 L249.20,506.63 L249.70,506.17 L250.20,505.70 L250.70,505.21 L251.20,504.71 L251.70,504.20 L252.20,503.70 L252.70,503.19 L253.20,502.70 L253.70,502.21 L254.20,501.74 L254.70,501.30 L255.20,500.87 L255.70,500.47 L256.20,500.11 L256.70,499.78 L257.20,499.48 L257.70,499.22 L258.20,499.01 L258.70,498.84 L259.20,498.71 L259.70,498.63 L260.20,498.60 L260.70,498.62 L261.20,498.69 L261.70,498.81 L262.20,498.98 L262.70,499.20 L263.20,499.46 L263.70,499.77 L264.20,500.12 L264.70,500.51 L265.20,500.93 L265.70,501.38 L266.20,501.86 L266.70,502.35 L267.20,502.86 L267.70,503.38 L268.20,503.90 L268.70,504.43 L269.20,504.94 L269.70,505.45 L270.20,505.93 L270.70,506.40 L271.20,506.84 L271.70,507.25 L272.20,507.62 L272.70,507.96 L273.20,508.25 L273.70,508.50 L274.20,508.70 L274.70,508.85 L275.20,508.95 L275.70,509.00 L276.20,508.99 L276.70,508.92 L277.20,508.79 L277.70,508.60 L278.20,508.35 L278.70,508.04 L279.20,507.69 L279.70,507.28 L280.20,506.84 L280.70,506.35 L281.20,505.83 L281.70,505.29 L282.20,504.72 L282.70,504.14 L283.20,503.56 L283.70,502.97 L284.20,502.39 L284.70,501.82 L285.20,501.27 L285.70,500.75 L286.20,500.26 L286.70,499.80 L287.20,499.39 L287.70,499.02 L288.20,498.71 L288.70,498.45 L289.20,498.24 L289.70,498.10 L290.20,498.02 L290.70,498.00 L291.20,498.16 L291.70,498.55 L292.20,499.13 L292.70,499.90 L293.20,500.82 L293.70,501.85 L294.20,502.95 L294.70,504.07 L295.20,505.16 L295.70,506.19 L296.20,507.11 L296.70,507.87 L297.20,508.46" fill="none" stroke="#E0A024" stroke-width="1.9" stroke-linecap="butt"/>
<g transform="translate(283.6,498.2) rotate(-32)"><rect x="-6.2" y="-2.3" width="12.4" height="4.6" fill="#E3222E"/><line x1="-5.20" y1="-1.5" x2="-5.20" y2="1.5" stroke="#fff" stroke-width="0.6"/><line x1="-3.45" y1="-1.5" x2="-3.45" y2="1.5" stroke="#fff" stroke-width="0.6"/><line x1="-1.70" y1="-1.5" x2="-1.70" y2="1.5" stroke="#fff" stroke-width="0.6"/><line x1="0.05" y1="-1.5" x2="0.05" y2="1.5" stroke="#fff" stroke-width="0.6"/><line x1="1.80" y1="-1.5" x2="1.80" y2="1.5" stroke="#fff" stroke-width="0.6"/><line x1="3.55" y1="-1.5" x2="3.55" y2="1.5" stroke="#fff" stroke-width="0.6"/><line x1="5.30" y1="-1.5" x2="5.30" y2="1.5" stroke="#fff" stroke-width="0.6"/></g>
<ellipse cx="250.40" cy="534.10" rx="9.60" ry="7.90" fill="#9aa6c0" opacity="0.35"/>
<ellipse cx="250.40" cy="533.70" rx="9.00" ry="7.30" fill="url(#gOr)"/>
<text x="250.40" y="535.36" font-size="4.6" font-weight="bold" fill="#111" stroke="#111" stroke-width="0.2" text-anchor="middle" textLength="13.50" lengthAdjust="spacingAndGlyphs">WTAP</text>
<ellipse cx="266.70" cy="529.20" rx="11.20" ry="8.00" fill="#9aa6c0" opacity="0.35"/>
<ellipse cx="266.70" cy="528.80" rx="10.60" ry="7.40" fill="url(#gOr)"/>
<text x="266.70" y="530.46" font-size="4.6" font-weight="bold" fill="#111" stroke="#111" stroke-width="0.2" text-anchor="middle" textLength="14.00" lengthAdjust="spacingAndGlyphs">WTAP</text>
<ellipse cx="285.00" cy="529.20" rx="11.20" ry="8.00" fill="#9aa6c0" opacity="0.35"/>
<ellipse cx="285.00" cy="528.80" rx="10.60" ry="7.40" fill="url(#gOr)"/>
<text x="285.00" y="530.46" font-size="4.6" font-weight="bold" fill="#111" stroke="#111" stroke-width="0.2" text-anchor="middle" textLength="14.00" lengthAdjust="spacingAndGlyphs">WTAP</text>
<ellipse cx="265.50" cy="539.30" rx="11.20" ry="8.00" fill="#9aa6c0" opacity="0.35"/>
<ellipse cx="265.50" cy="538.90" rx="10.60" ry="7.40" fill="url(#gOr)"/>
<text x="265.50" y="540.56" font-size="4.6" font-weight="bold" fill="#111" stroke="#111" stroke-width="0.2" text-anchor="middle" textLength="14.00" lengthAdjust="spacingAndGlyphs">WTAP</text>
<ellipse cx="283.70" cy="539.60" rx="11.20" ry="8.00" fill="#9aa6c0" opacity="0.35"/>
<ellipse cx="283.70" cy="539.20" rx="10.60" ry="7.40" fill="url(#gOr)"/>
<text x="283.70" y="540.86" font-size="4.6" font-weight="bold" fill="#111" stroke="#111" stroke-width="0.2" text-anchor="middle" textLength="14.00" lengthAdjust="spacingAndGlyphs">WTAP</text>
<polygon points="307.50,530.20 310.30,533.85 308.79,533.85 308.79,537.50 306.21,537.50 306.21,533.85 304.70,533.85" fill="#C8141E"/>
<text x="187.60" y="553.00" font-size="7.2" fill="#111" font-weight="bold" textLength="57.60" lengthAdjust="spacingAndGlyphs" stroke="#111" stroke-width="0.35">m6A methylation</text>
<polygon points="249.90,547.90 252.70,551.35 251.19,551.35 251.19,554.80 248.61,554.80 248.61,551.35 247.10,551.35" fill="#C8141E"/>
<rect x="260.65" y="551.70" width="1.90" height="7.80" fill="#111"/>
<polygon points="259.70,559.20 263.50,559.20 261.60,562.00" fill="#111"/>
<text x="236.40" y="573.20" font-size="8.4" fill="#D0202A" font-weight="bold" textLength="18.20" lengthAdjust="spacingAndGlyphs" stroke="#D0202A" stroke-width="0.35">m6A</text>
<text x="200.60" y="581.50" font-size="7.75" fill="#2D4A9D" font-weight="bold" textLength="15.60" lengthAdjust="spacingAndGlyphs" stroke="#2D4A9D" stroke-width="0.3">HK2</text>
<path d="M229.10,581.73 L229.60,581.91 L230.10,582.13 L230.60,582.39 L231.10,582.69 L231.60,583.04 L232.10,583.42 L232.60,583.83 L233.10,584.27 L233.60,584.74 L234.10,585.23 L234.60,585.74 L235.10,586.26 L235.60,586.79 L236.10,587.32 L236.60,587.86 L237.10,588.39 L237.60,588.91 L238.10,589.42 L238.60,589.91 L239.10,590.38 L239.60,590.83 L240.10,591.24 L240.60,591.63 L241.10,591.97 L241.60,592.28 L242.10,592.55 L242.60,592.77 L243.10,592.95 L243.60,593.08 L244.10,593.16 L244.60,593.20 L245.10,593.19 L245.60,593.13 L246.10,593.02 L246.60,592.87 L247.10,592.68 L247.60,592.44 L248.10,592.17 L248.60,591.85 L249.10,591.50 L249.60,591.12 L250.10,590.71 L250.60,590.27 L251.10,589.81 L251.60,589.33 L252.10,588.84 L252.60,588.33 L253.10,587.82 L253.60,587.30 L254.10,586.78 L254.60,586.27 L255.10,585.76 L255.60,585.27 L256.10,584.79 L256.60,584.34 L257.10,583.90 L257.60,583.50 L258.10,583.12 L258.60,582.78 L259.10,582.48 L259.60,582.21 L260.10,581.98 L260.60,581.80 L261.10,581.66 L261.60,581.56 L262.10,581.51 L262.60,581.50 L263.10,581.55 L263.60,581.64 L264.10,581.78 L264.60,581.97 L265.10,582.21 L265.60,582.48 L266.10,582.80 L266.60,583.15 L267.10,583.54 L267.60,583.95 L268.10,584.40 L268.60,584.86 L269.10,585.35 L269.60,585.84 L270.10,586.35 L270.60,586.85 L271.10,587.36 L271.60,587.86 L272.10,588.35 L272.60,588.82 L273.10,589.27 L273.60,589.70 L274.10,590.10 L274.60,590.47 L275.10,590.80 L275.60,591.09 L276.10,591.34 L276.60,591.55 L277.10,591.71 L277.60,591.82 L278.10,591.88 L278.60,591.90 L279.10,591.86 L279.60,591.77 L280.10,591.63 L280.60,591.44 L281.10,591.19 L281.60,590.91 L282.10,590.58 L282.60,590.21 L283.10,589.80 L283.60,589.36 L284.10,588.89 L284.60,588.41 L285.10,587.90 L285.60,587.38 L286.10,586.86 L286.60,586.33 L287.10,585.81 L287.60,585.29 L288.10,584.80 L288.60,584.32 L289.10,583.86 L289.60,583.43 L290.10,583.04 L290.60,582.69 L291.10,582.37 L291.60,582.10 L292.10,581.88 L292.60,581.71 L293.10,581.59 L293.60,581.52 L294.10,581.51 L294.60,581.68 L295.10,582.10 L295.60,582.73 L296.10,583.56 L296.60,584.54 L297.10,585.63 L297.60,586.76 L298.10,587.89 L298.60,588.97 L299.10,589.94 L299.60,590.75 L300.10,591.36" fill="none" stroke="#213E92" stroke-width="1.9" stroke-linecap="butt"/>
<rect x="261.40" y="572.50" width="2.00" height="9.00" fill="#111"/>
<circle cx="262.40" cy="572.50" r="3.6" fill="#E23B3B"/>
<rect x="292.60" y="572.50" width="2.00" height="9.00" fill="#111"/>
<circle cx="293.60" cy="572.50" r="3.6" fill="#E23B3B"/>
<rect x="260.95" y="611.30" width="1.90" height="7.70" fill="#111"/>
<polygon points="260.00,618.70 263.80,618.70 261.90,621.50" fill="#111"/>
<text x="185.30" y="626.20" font-size="7.1" fill="#111" font-weight="bold" textLength="53.50" lengthAdjust="spacingAndGlyphs" stroke="#111" stroke-width="0.35">mRNA stability</text>
<polygon points="243.10,620.30 245.90,624.00 244.39,624.00 244.39,627.70 241.81,627.70 241.81,624.00 240.30,624.00" fill="#C8141E"/>
<ellipse cx="309.6" cy="635.2" rx="17.1" ry="7.9" fill="#8C8C8C"/>
<text x="309.60" y="637.90" font-size="7.2" fill="#E4E4E4" text-anchor="middle" textLength="29.00" lengthAdjust="spacingAndGlyphs">IGF2BP2</text>
<path d="M232.10,653.30 L232.60,653.52 L233.10,653.81 L233.60,654.15 L234.10,654.54 L234.60,654.99 L235.10,655.48 L235.60,656.01 L236.10,656.58 L236.60,657.19 L237.10,657.82 L237.60,658.48 L238.10,659.15 L238.60,659.84 L239.10,660.53 L239.60,661.22 L240.10,661.90 L240.60,662.57 L241.10,663.23 L241.60,663.86 L242.10,664.46 L242.60,665.03 L243.10,665.56 L243.60,666.05 L244.10,666.49 L244.60,666.88 L245.10,667.22 L245.60,667.50 L246.10,667.72 L246.60,667.87 L247.10,667.97 L247.60,668.00 L248.10,667.97 L248.60,667.88 L249.10,667.72 L249.60,667.51 L250.10,667.24 L250.60,666.91 L251.10,666.54 L251.60,666.11 L252.10,665.63 L252.60,665.12 L253.10,664.56 L253.60,663.97 L254.10,663.35 L254.60,662.71 L255.10,662.05 L255.60,661.38 L256.10,660.70 L256.60,660.02 L257.10,659.35 L257.60,658.68 L258.10,658.03 L258.60,657.40 L259.10,656.79 L259.60,656.21 L260.10,655.67 L260.60,655.17 L261.10,654.72 L261.60,654.31 L262.10,653.95 L262.60,653.64 L263.10,653.40 L263.60,653.21 L264.10,653.08 L264.60,653.01 L265.10,653.00 L265.60,653.05 L266.10,653.14 L266.60,653.27 L267.10,653.46 L267.60,653.68 L268.10,653.95 L268.60,654.26 L269.10,654.61 L269.60,654.99 L270.10,655.41 L270.60,655.86 L271.10,656.33 L271.60,656.83 L272.10,657.35 L272.60,657.88 L273.10,658.43 L273.60,658.98 L274.10,659.54 L274.60,660.10 L275.10,660.66 L275.60,661.21 L276.10,661.75 L276.60,662.27 L277.10,662.77 L277.60,663.25 L278.10,663.70 L278.60,664.13 L279.10,664.52 L279.60,664.87 L280.10,665.19 L280.60,665.47 L281.10,665.70 L281.60,665.89 L282.10,666.04 L282.60,666.14 L283.10,666.19 L283.60,666.19 L284.10,666.10 L284.60,665.90 L285.10,665.61 L285.60,665.22 L286.10,664.74 L286.60,664.18 L287.10,663.55 L287.60,662.85 L288.10,662.11 L288.60,661.32 L289.10,660.51 L289.60,659.68 L290.10,658.86 L290.60,658.04 L291.10,657.25 L291.60,656.49 L292.10,655.79 L292.60,655.14 L293.10,654.57 L293.60,654.07 L294.10,653.66 L294.60,653.35 L295.10,653.13 L295.60,653.02 L296.10,653.01 L296.60,653.17 L297.10,653.50 L297.60,653.99 L298.10,654.63 L298.60,655.41 L299.10,656.29 L299.60,657.26 L300.10,658.30 L300.60,659.37 L301.10,660.44 L301.60,661.50 L302.10,662.50 L302.60,663.43 L303.10,664.25 L303.60,664.95 L304.10,665.51" fill="none" stroke="#213E92" stroke-width="1.9" stroke-linecap="butt"/>
<rect x="264.50" y="644.70" width="2.00" height="8.80" fill="#111"/>
<circle cx="265.50" cy="644.70" r="3.6" fill="#E23B3B"/>
<rect x="295.20" y="644.70" width="2.00" height="8.80" fill="#111"/>
<circle cx="296.20" cy="644.70" r="3.6" fill="#E23B3B"/>
<text x="211.20" y="673.90" font-size="7.75" fill="#2D4A9D" font-weight="bold" textLength="15.50" lengthAdjust="spacingAndGlyphs" stroke="#2D4A9D" stroke-width="0.3">HK2</text>
<rect x="260.95" y="668.00" width="1.90" height="7.60" fill="#111"/>
<polygon points="260.00,675.30 263.80,675.30 261.90,678.10" fill="#111"/>
<path d="M233.30,682.26 L233.80,682.43 L234.30,682.65 L234.80,682.91 L235.30,683.21 L235.80,683.55 L236.30,683.93 L236.80,684.34 L237.30,684.77 L237.80,685.24 L238.30,685.72 L238.80,686.23 L239.30,686.75 L239.80,687.29 L240.30,687.83 L240.80,688.38 L241.30,688.92 L241.80,689.47 L242.30,690.00 L242.80,690.53 L243.30,691.03 L243.80,691.52 L244.30,691.99 L244.80,692.43 L245.30,692.84 L245.80,693.22 L246.30,693.56 L246.80,693.86 L247.30,694.13 L247.80,694.35 L248.30,694.53 L248.80,694.67 L249.30,694.75 L249.80,694.80 L250.30,694.79 L250.80,694.72 L251.30,694.58 L251.80,694.38 L252.30,694.12 L252.80,693.80 L253.30,693.42 L253.80,692.99 L254.30,692.52 L254.80,692.00 L255.30,691.45 L255.80,690.86 L256.30,690.25 L256.80,689.62 L257.30,688.98 L257.80,688.34 L258.30,687.69 L258.80,687.05 L259.30,686.42 L259.80,685.82 L260.30,685.24 L260.80,684.69 L261.30,684.18 L261.80,683.72 L262.30,683.30 L262.80,682.93 L263.30,682.63 L263.80,682.38 L264.30,682.19 L264.80,682.06 L265.30,682.01 L265.80,682.01 L266.30,682.06 L266.80,682.17 L267.30,682.32 L267.80,682.51 L268.30,682.76 L268.80,683.04 L269.30,683.37 L269.80,683.74 L270.30,684.14 L270.80,684.57 L271.30,685.04 L271.80,685.53 L272.30,686.04 L272.80,686.57 L273.30,687.12 L273.80,687.67 L274.30,688.23 L274.80,688.79 L275.30,689.35 L275.80,689.90 L276.30,690.44 L276.80,690.97 L277.30,691.47 L277.80,691.95 L278.30,692.40 L278.80,692.83 L279.30,693.21 L279.80,693.56 L280.30,693.88 L280.80,694.15 L281.30,694.37 L281.80,694.55 L282.30,694.68 L282.80,694.76 L283.30,694.80 L283.80,694.78 L284.30,694.69 L284.80,694.52 L285.30,694.29 L285.80,694.00 L286.30,693.64 L286.80,693.22 L287.30,692.76 L287.80,692.24 L288.30,691.68 L288.80,691.08 L289.30,690.45 L289.80,689.81 L290.30,689.14 L290.80,688.47 L291.30,687.79 L291.80,687.13 L292.30,686.47 L292.80,685.84 L293.30,685.24 L293.80,684.67 L294.30,684.14 L294.80,683.66 L295.30,683.24 L295.80,682.87 L296.30,682.56 L296.80,682.32 L297.30,682.14 L297.80,682.04 L298.30,682.00 L298.80,682.12 L299.30,682.47 L299.80,683.04 L300.30,683.82 L300.80,684.76 L301.30,685.84 L301.80,687.01 L302.30,688.23 L302.80,689.46 L303.30,690.66 L303.80,691.76 L304.30,692.75 L304.80,693.57 L305.30,694.20" fill="none" stroke="#213E92" stroke-width="1.9" stroke-linecap="butt"/>
<path d="M340.8,447 H351 V689.6 H340.8" fill="none" stroke="#4263A8" stroke-width="1.2"/>
<line x1="340.80" y1="564.20" x2="351.00" y2="564.20" stroke="#4263A8" stroke-width="1.2"/>
<rect x="353.10" y="563.30" width="13.50" height="1.90" fill="#1B3A8C"/>
<polygon points="366.3,560.8 373.8,564.25 366.3,567.7" fill="#1B3A8C"/>
<polygon points="386.8,516.4 393.0,513.2 456.8,533.9 459.4,540.2" fill="#4A8CD6" stroke="#2F5283" stroke-width="0.6" stroke-linejoin="round"/>
<path d="M378.5,556 L397.0,520.5 L415.2,556" fill="none" stroke="#555" stroke-width="0.6"/>
<path d="M432.0,574 L453.3,538.6 L469.7,574" fill="none" stroke="#555" stroke-width="0.6"/>
<rect x="423.00" y="522.00" width="2.80" height="77.50" fill="#4A8CD6" stroke="#2F5283" stroke-width="0.6"/>
<path d="M395.4,606.4 A28.75,8.8 0 0 1 452.9,606.4 Z" fill="#4A8CD6" stroke="#2F5283" stroke-width="0.6"/>
<path d="M424.3,514.4 C425.5,518 428.7,521.2 428.7,525.6 A4.4,4.4 0 0 1 419.9,525.6 C419.9,521.2 423.1,518 424.3,514.4 Z" fill="#4A8CD6" stroke="#2F5283" stroke-width="0.6"/>
<circle cx="424.3" cy="525.7" r="1.1" fill="#fff"/>
<ellipse cx="389.0" cy="554.0" rx="4.8" ry="3.0" fill="url(#gGr)"/>
<ellipse cx="399.8" cy="553.0" rx="4.8" ry="3.0" fill="url(#gGr)"/>
<ellipse cx="395.0" cy="556.0" rx="4.8" ry="3.0" fill="url(#gGr)"/>
<path d="M377.8,556.1 L415.5,556.1 Q414,564.5 396.6,564.5 Q379,564.5 377.8,556.1 Z" fill="#4A8CD6" stroke="#2F5283" stroke-width="0.6"/>
<ellipse cx="455.5" cy="564.3" rx="4.3" ry="3.0" fill="url(#gBl)"/>
<ellipse cx="448.6" cy="567.4" rx="4.3" ry="3.0" fill="url(#gBl)"/>
<ellipse cx="458.8" cy="567.8" rx="4.3" ry="3.0" fill="url(#gBl)"/>
<ellipse cx="444.3" cy="571.0" rx="4.3" ry="3.0" fill="url(#gBl)"/>
<ellipse cx="452.3" cy="570.8" rx="4.3" ry="3.0" fill="url(#gBl)"/>
<ellipse cx="460.6" cy="571.2" rx="4.3" ry="3.0" fill="url(#gBl)"/>
<ellipse cx="465.8" cy="573.6" rx="4.3" ry="3.0" fill="url(#gBl)"/>
<ellipse cx="441.0" cy="573.8" rx="4.3" ry="3.0" fill="url(#gBl)"/>
<ellipse cx="449.0" cy="574.0" rx="4.3" ry="3.0" fill="url(#gBl)"/>
<ellipse cx="457.2" cy="574.0" rx="4.3" ry="3.0" fill="url(#gBl)"/>
<path d="M431.8,574 L469.8,574 Q468.5,582.5 450.8,582.5 Q433,582.5 431.8,574 Z" fill="#4A8CD6" stroke="#2F5283" stroke-width="0.6"/>
<ellipse cx="388" cy="633.8" rx="5" ry="2.6" fill="url(#gGr)"/>
<ellipse cx="388" cy="645.3" rx="5" ry="2.6" fill="url(#gBl)"/>
<text x="398.00" y="635.80" font-size="7.4" fill="#111" font-weight="bold" textLength="84.00" lengthAdjust="spacingAndGlyphs" stroke="#111" stroke-width="0.35">Tumor suppressor gene</text>
<text x="398.00" y="647.30" font-size="7.4" fill="#111" font-weight="bold" textLength="36.50" lengthAdjust="spacingAndGlyphs" stroke="#111" stroke-width="0.35">Oncogene</text>
<rect x="0.00" y="0.00" width="520.00" height="1.20" fill="#000"/>
<rect x="0.00" y="0.00" width="1.50" height="724.00" fill="#000"/>
<rect x="518.60" y="0.00" width="1.40" height="724.00" fill="#000"/>
<rect x="0.00" y="722.50" width="520.00" height="1.50" fill="#000"/>
</svg>
</body></html>
